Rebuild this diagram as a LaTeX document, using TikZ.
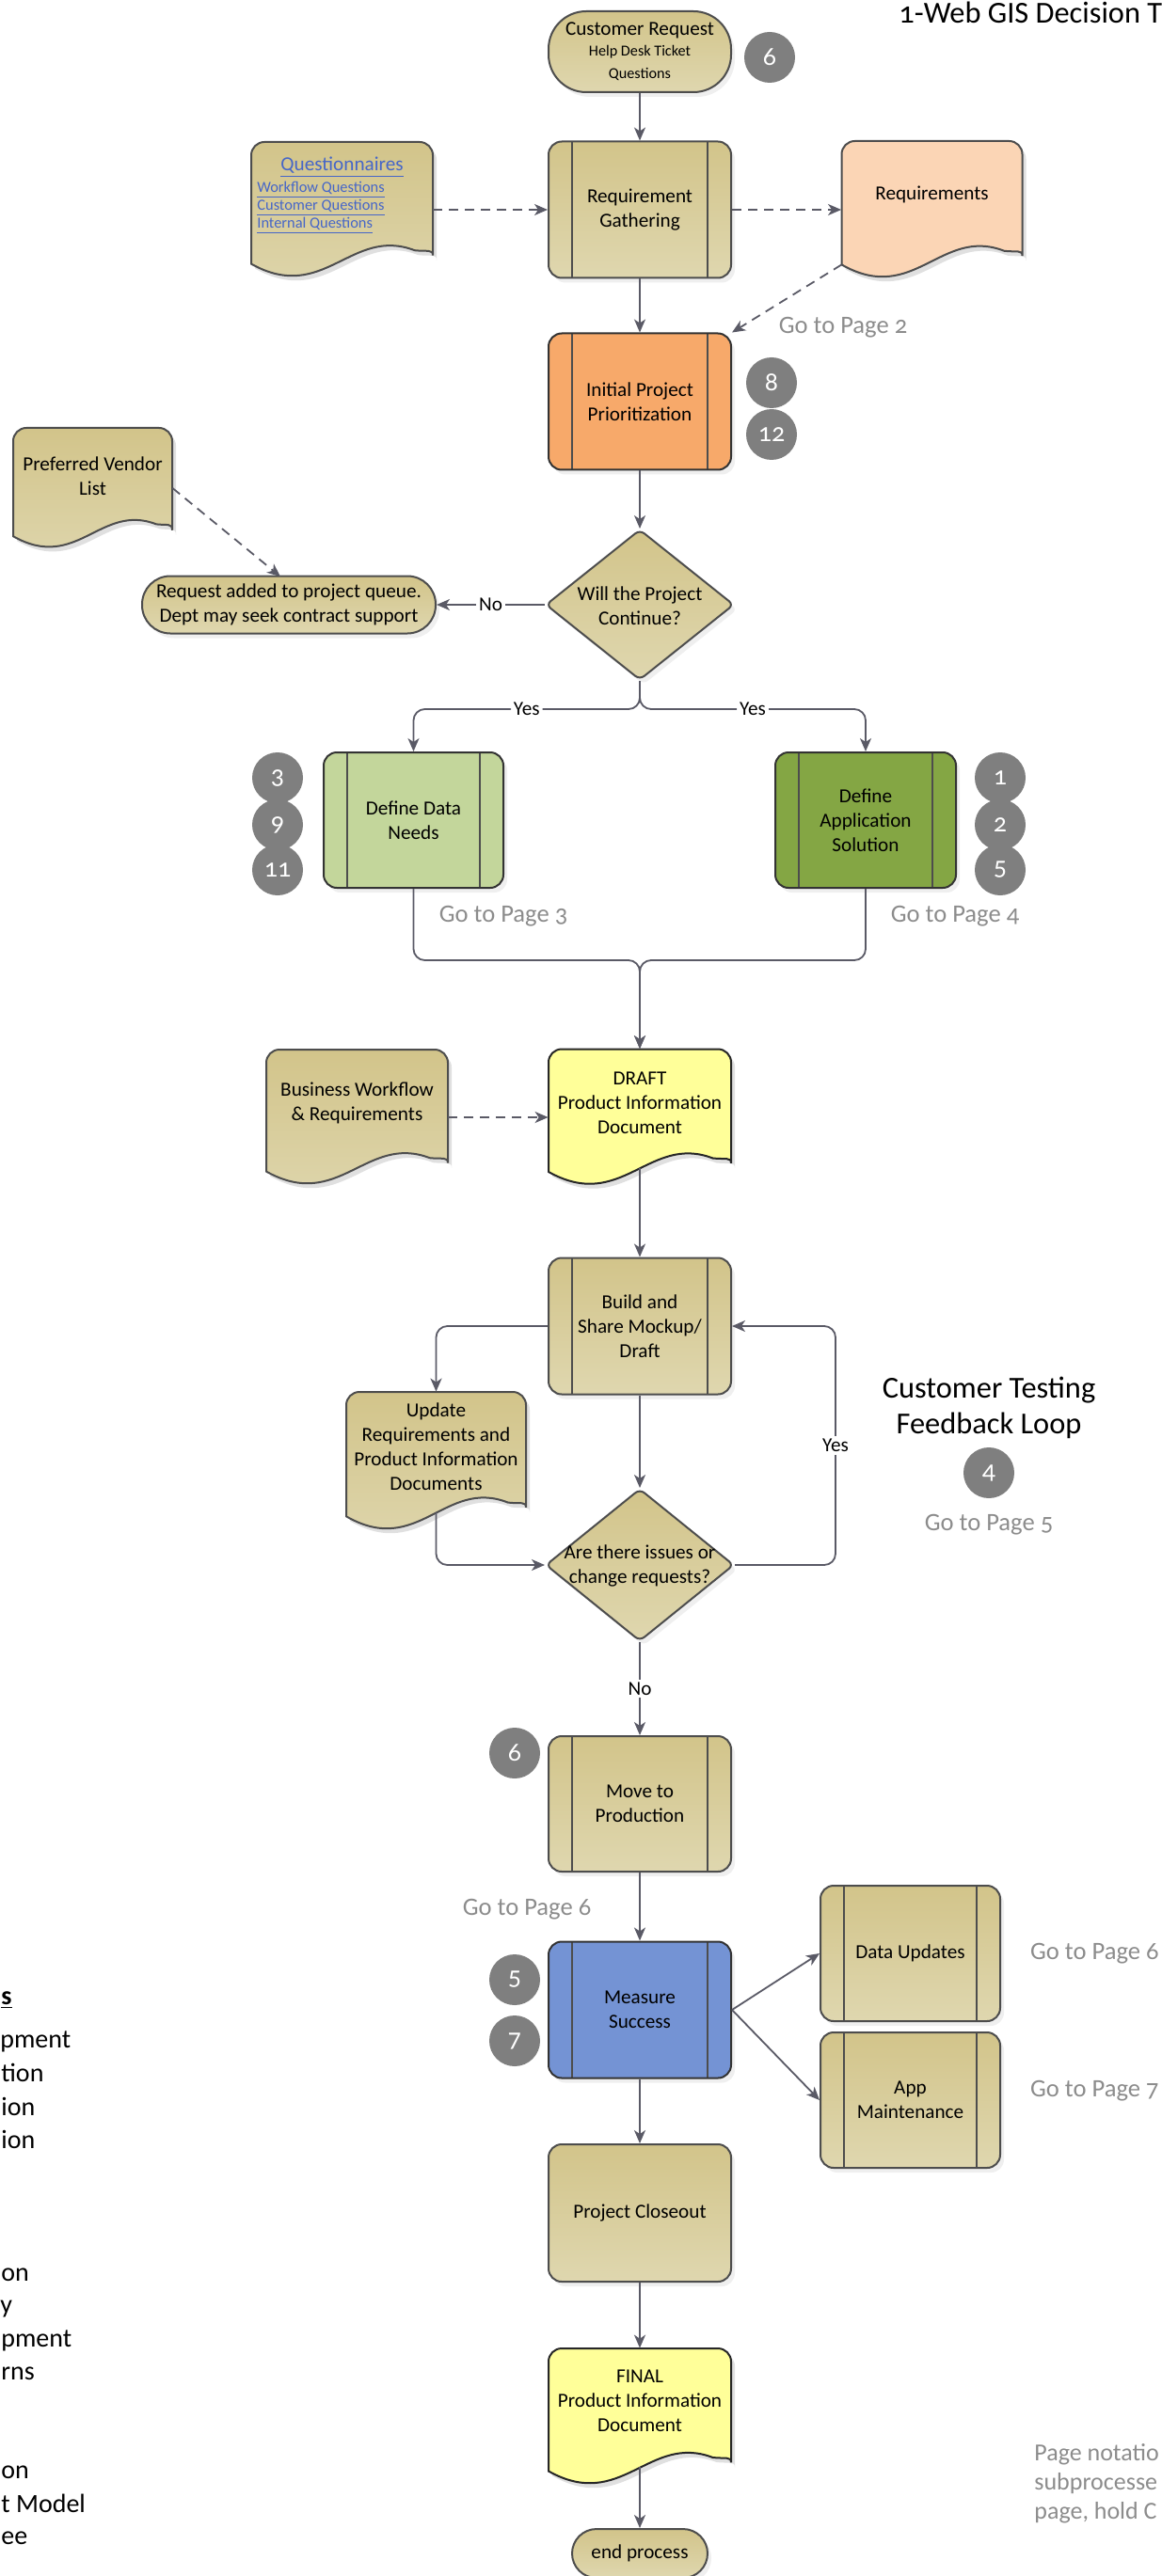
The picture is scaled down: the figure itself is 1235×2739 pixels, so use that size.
\documentclass[tikz,border=0pt]{standalone}
\usepackage{fontspec}
\setmainfont{Carlito}
\newfontfamily\osf[Numbers=OldStyle]{Carlito}
\usetikzlibrary{arrows.meta,shapes.geometric,shadows,calc}
\definecolor{tanA}{RGB}{210,196,138}
\definecolor{tanB}{RGB}{223,215,175}
\definecolor{edgec}{RGB}{77,77,77}
\definecolor{linkc}{RGB}{70,102,200}
\definecolor{arrc}{RGB}{90,90,102}
\definecolor{orangec}{RGB}{247,169,106}
\definecolor{peachc}{RGB}{251,213,181}
\definecolor{lgreenc}{RGB}{195,214,155}
\definecolor{greenc}{RGB}{132,166,68}
\definecolor{bluec}{RGB}{116,147,212}
\definecolor{yellowc}{RGB}{255,255,153}
\definecolor{badgec}{RGB}{127,127,127}
\definecolor{goc}{RGB}{140,140,140}
\definecolor{shadc}{RGB}{224,224,224}
\newcommand\fnNode{\fontsize{10.6pt}{13pt}\selectfont}
\newcommand\fnSmall{\fontsize{8.1pt}{12pt}\selectfont}
\newcommand\fnLink{\fontsize{8.2pt}{9.6pt}\selectfont}
\newcommand\fnGo{\osf\fontsize{13.3pt}{16pt}\selectfont}
\newcommand\fnBig{\fontsize{16.2pt}{19pt}\selectfont}
\newcommand\fnTitle{\osf\fontsize{16.2pt}{19pt}\selectfont}
\newcommand\fnSide{\fontsize{14pt}{17.5pt}\selectfont}
\newcommand\fnNote{\fontsize{13pt}{15.5pt}\selectfont}
\newcommand\fnBadge{\osf\fontsize{14pt}{16pt}\selectfont}
% document shape path: cx, cy, w, h
\newcommand\docpath[4]{({#1-#3/2},{#2-#4/2+0.9*#4}) -- ({#1-#3/2},{#2-#4/2}) -- ({#1+#3/2},{#2-#4/2}) -- ({#1+#3/2},{#2-#4/2+0.74*#4}) [sharp corners] .. controls ({#1+#3/2},{#2-#4/2+0.79*#4}) and ({#1+#3/2-0.03*#3},{#2-#4/2+0.81*#4}) .. ({#1+#3/2-0.1*#3},{#2-#4/2+0.8*#4}) .. controls ({#1-#3/2+0.55*#3},{#2-#4/2+0.62*#4}) and ({#1-#3/2+0.4*#3},{#2-#4/2+1.2*#4}) .. ({#1-#3/2},{#2-#4/2+0.9*#4}) -- cycle}
% name, cx, cy, w, h, fill options, text, text offset
\newcommand\docshape[8]{%
  \node[inner sep=0pt, minimum width={#4*0.5pt}, minimum height={#5*0.5pt}] (#1) at (#2,#3) {};
  \begin{scope}[shift={(4,5)}]
    \fill[shadc, rounded corners=7pt] \docpath{#2}{#3}{#4}{#5};
  \end{scope}
  \draw[draw=edgec, line width=1pt, rounded corners=7pt, #6] \docpath{#2}{#3}{#4}{#5};
  \node[align=center] (#1-t) at ({#2},{#3+(#8)}) {#7};
  \coordinate (#1-b) at ({#2},{#3-#5/2+0.87*#5});
  \coordinate (#1-l) at ({#2-#4/2},{#3-#5/2+0.9*#5});
}
\begin{document}
\begin{tikzpicture}[x=0.5pt, y=-0.5pt,
  every node/.style={font=\fnNode, text=black},
  base/.style={draw=edgec, line width=1pt, drop shadow={shadow xshift=2pt, shadow yshift=-2.5pt, fill=shadc}},
  tanfill/.style={top color=tanA, bottom color=tanB},
  sz/.style 2 args={minimum width={#1*0.5pt}, minimum height={#2*0.5pt}, inner sep=0pt, align=center},
  subp/.style={rectangle, rounded corners=7pt, path picture={
      \draw[edgec, line width=0.75pt] ([xshift=12.5pt]path picture bounding box.north west) -- ([xshift=12.5pt]path picture bounding box.south west);
      \draw[edgec, line width=0.75pt] ([xshift=-12.5pt]path picture bounding box.north east) -- ([xshift=-12.5pt]path picture bounding box.south east);}},
  arr/.style={draw=arrc, line width=0.9pt, -{Stealth[length=7pt,width=6pt,inset=2pt]}},
  dsh/.style={arr, dash pattern=on 5pt off 3.5pt},
  lbl/.style={fill=white, inner sep=1.5pt},
  goto/.style={text=goc, font=\fnGo},
  badge/.style={circle, fill=badgec, text=white, font=\fnBadge, minimum size=27pt, inner sep=0pt},
  frag/.style={anchor=base west, font=\fnSide, inner sep=0pt}
]
\useasboundingbox (0,0) rectangle (1235,2739);
\fill[white] (0,0) rectangle (1235,2739);
\clip (0,0) rectangle (1235,2739);

% ---------- process nodes ----------
\node[base, tanfill, sz={194}{86}, rounded corners=20pt] (cr) at (680,55)
  {Customer Request\\[-2pt]\fnSmall Help Desk Ticket\\[-1pt]\fnSmall Questions};
\node[base, subp, tanfill, sz={194}{145}] (rg) at (680,223) {Requirement\\Gathering};
\node[base, subp, fill=orangec, draw=black!80, sz={194}{145}] (ipp) at (680,427) {Initial Project\\Prioritization};
\node[base, tanfill, diamond, aspect=1.25, minimum width=100pt, minimum height=80pt, inner sep=0pt, rounded corners=3pt] (d1) at (680,643) {};
\node[align=center] (d1t) at (680,644) {Will the Project\\Continue?};
\node[base, tanfill, sz={312}{61}, rounded corners=15pt] (rq) at (307,643) {Request added to project queue.\\Dept may seek contract support};
\node[base, subp, fill=lgreenc, draw=black!80, sz={191}{144}] (dd) at (439.5,872) {Define Data\\Needs};
\node[base, subp, fill=greenc, draw=black!80, sz={192}{144}] (das) at (920,872) {Define\\Application\\Solution};
\node[base, subp, tanfill, sz={194}{145}] (build) at (680,1410) {Build and\\Share Mockup/\\Draft};
\node[base, tanfill, diamond, aspect=1.25, minimum width=100pt, minimum height=81pt, inner sep=0pt, rounded corners=3pt] (d2) at (680,1664) {};
\node[align=center] (d2t) at (680,1665) {Are there issues or\\change requests?};
\node[base, subp, tanfill, sz={194}{144}] (move) at (680,1918) {Move to\\Production};
\node[base, subp, fill=bluec, draw=black!80, sz={194}{145}] (meas) at (680,2137) {Measure\\Success};
\node[base, subp, tanfill, sz={191}{144}] (du) at (967.5,2077) {Data Updates};
\node[base, subp, tanfill, sz={191}{144}] (am) at (967.5,2233) {App\\Maintenance};
\node[base, tanfill, sz={194}{146}, rounded corners=7pt] (pc) at (680,2353) {Project Closeout};
\node[base, tanfill, sz={144}{52}, rounded corners=13pt] (ep) at (680,2715) {end process};

% ---------- documents ----------
\docshape{quest}{363.5}{223}{193}{144}{tanfill}{\textcolor{linkc}{\underline{Questionnaires}}}{-45}
\node[anchor=west, align=left, font=\fnLink, text=linkc, inner sep=0pt] (questl) at (273,221)
  {\underline{Workflow Questions}\\\underline{Customer Questions}\\\underline{Internal Questions}};
\docshape{reqd}{990.5}{223}{192}{146}{fill=peachc}{Requirements}{-16}
\docshape{pvl}{98.5}{519}{169}{128}{tanfill}{Preferred Vendor\\List}{-13}
\docshape{draft}{680}{1188}{194}{145}{fill=yellowc, draw=black!85}{DRAFT\\Product Information\\Document}{-15}
\docshape{bw}{379.5}{1188}{193}{144}{tanfill}{Business Workflow\\\& Requirements}{-15}
\docshape{upd}{463.5}{1553.5}{191}{147}{tanfill}{Update\\Requirements and\\Product Information\\Documents}{-15.5}
\docshape{final}{680}{2569.5}{194}{145}{fill=yellowc, draw=black!85}{FINAL\\Product Information\\Document}{-16.5}

% ---------- badges ----------
\node[badge] (b6a) at (818,61) {6};
\node[badge] (b8) at (820,407) {8};
\node[badge] (b12) at (820,462) {12};
\node[badge] (b3) at (295,827) {3};
\node[badge] (b9) at (295,877) {9};
\node[badge] (b11) at (295,925) {11};
\node[badge] (b1) at (1063,827) {1};
\node[badge] (b2) at (1063,877) {2};
\node[badge] (b5a) at (1063,925) {5};
\node[badge] (b4) at (1051,1566) {4};
\node[badge] (b6b) at (547,1864) {6};
\node[badge] (b5b) at (547,2105) {5};
\node[badge] (b7) at (547,2170) {7};

% ---------- connectors ----------
\coordinate (mrg) at (680,1021);
\coordinate (loopc) at (888,1664);
\coordinate (rqin) at (298,613);
\draw[arr] (cr) -- (rg);
\draw[arr] (rg) -- (ipp);
\draw[arr] (ipp) -- (d1);
\draw[dsh] (quest.east) -- (rg.west);
\draw[dsh] (rg.east) -- (reqd.west);
\draw[dsh] (reqd-l) -- (ipp.north east);
\draw[arr] (d1.west) -- node[lbl]{No} (rq.east);
\draw[dsh] (pvl.east) -- (rqin);
\draw[arr, rounded corners=6pt] (d1.south) -- ++(0,30) -| node[lbl,pos=0.25]{Yes} (dd.north);
\draw[arr, rounded corners=6pt] (d1.south) -- ++(0,30) -| node[lbl,pos=0.25]{Yes} (das.north);
\draw[arr, rounded corners=6pt] (dd.south) |- (mrg) -- (draft.north);
\draw[arr, rounded corners=6pt] (das.south) |- (mrg) -- (draft.north);
\draw[dsh] (bw.east) -- (draft.west);
\draw[arr] (draft-b) -- (build.north);
\draw[arr, rounded corners=6pt] (build.west) -| (upd.north);
\draw[arr] (build) -- (d2);
\draw[arr, rounded corners=6pt] (upd-b) |- (d2.west);
\draw[arr, rounded corners=6pt] (d2.east) -- (loopc) |- node[lbl,pos=0.25]{Yes} (build.east);
\draw[arr] (d2.south) -- node[lbl]{No} (move.north);
\draw[arr] (move) -- (meas);
\draw[arr] (meas.east) -- (du.west);
\draw[arr] (meas.east) -- (am.west);
\draw[arr] (meas) -- (pc);
\draw[arr] (pc) -- (final);
\draw[arr] (final-b) -- (ep.north);

% ---------- free texts ----------
\node[anchor=base west, font=\fnTitle, inner sep=0pt] (title) at (955,25) {1-Web GIS Decision T};
\node[goto] (g2) at (896,348) {Go to Page 2};
\node[goto] (g3) at (535,974) {Go to Page 3};
\node[goto] (g4) at (1015,974) {Go to Page 4};
\node[font=\fnBig, align=center] (ctf) at (1051,1497) {Customer Testing\\Feedback Loop};
\node[goto] (g5) at (1051,1621) {Go to Page 5};
\node[goto] (g6a) at (560,2030) {Go to Page 6};
\node[goto, anchor=west] (g6b) at (1088,2077) {Go to Page 6};
\node[goto, anchor=west] (g7) at (1088,2223) {Go to Page 7};
\node[anchor=west, align=left, font=\fnNote, text=goc, inner sep=0pt] (note) at (1099,2641) {Page notatio\\subprocesse\\page, hold C};

\node[frag] (f1) at (1,2131) {\textbf{\underline{s}}};
\node[frag] (f2) at (0,2177) {pment};
\node[frag] (f3) at (1,2213) {tion};
\node[frag] (f4) at (1,2249) {ion};
\node[frag] (f5) at (1,2284) {ion};
\node[frag] (f6) at (1,2425) {on};
\node[frag] (f7) at (0,2459) {y};
\node[frag] (f8) at (1,2495) {pment};
\node[frag] (f9) at (1,2530) {rns};
\node[frag] (f10) at (1,2635) {on};
\node[frag] (f11) at (1,2671) {t Model};
\node[frag] (f12) at (1,2705) {ee};
\end{tikzpicture}
\end{document}
